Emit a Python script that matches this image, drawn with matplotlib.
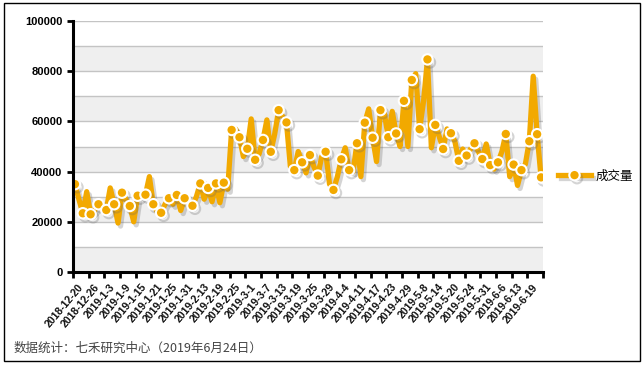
import numpy as np
import matplotlib
matplotlib.use("Agg")
import matplotlib.pyplot as plt
import matplotlib.patheffects as pe
from matplotlib.patches import Rectangle

plt.rcParams['font.family'] = ['Liberation Sans', 'Noto Sans CJK SC', 'DejaVu Sans']

# 成交量, one value per trading day (2018-12-20 .. 2019-06-24)
volume = [
    35000, 29000, 23400, 32000, 23000, 24500, 27000, 25000, 24700, 33500,
    27000, 19500, 31600, 29000, 26300, 20000, 30400, 31000, 30800, 38000,
    27000, 24000, 23600, 27000, 29400, 27000, 30700, 24500, 29400, 28000,
    26400, 30000, 35300, 29000, 33500, 28000, 35300, 27600, 35600, 33000,
    56600, 57000, 53700, 46000, 49100, 61000, 44700, 47000, 52600, 60600,
    47900, 55000, 64500, 62000, 59600, 42000, 40600, 48000, 43700, 39500,
    46600, 42000, 38400, 46000, 47900, 35000, 32700, 38000, 44900, 49500,
    40600, 40000, 51300, 38000, 59500, 65000, 53500, 44000, 64500, 63000,
    53700, 64000, 55200, 50000, 68200, 50000, 76500, 79000, 56900, 68000,
    84700, 49500, 58600, 54000, 49000, 57000, 55300, 52000, 44300, 49000,
    46400, 49000, 51300, 48000, 45000, 51000, 42600, 41000, 43700, 48000,
    55000, 38000, 42800, 34500, 40600, 43000, 52100, 78000, 54900, 37700,
]

tick_labels = [
    '2018-12-20', '2018-12-26', '2019-1-3', '2019-1-9', '2019-1-15',
    '2019-1-21', '2019-1-25', '2019-1-31', '2019-2-13', '2019-2-19',
    '2019-2-25', '2019-3-1', '2019-3-7', '2019-3-13', '2019-3-19',
    '2019-3-25', '2019-3-29', '2019-4-4', '2019-4-11', '2019-4-17',
    '2019-4-23', '2019-4-29', '2019-5-8', '2019-5-14', '2019-5-20',
    '2019-5-24', '2019-5-31', '2019-6-6', '2019-6-13', '2019-6-19',
]

n = len(volume)
x = np.arange(n)
color = '#F2A900'

fig = plt.figure(figsize=(6.43, 3.66), dpi=100)
ax = fig.add_axes([73/643, 1-272/366, 470/643, 251/366])

# alternating bands + gridlines
for lo in range(0, 100000, 20000):
    ax.axhspan(lo, lo + 10000, color='#efefef', zorder=0, lw=0)
for yv in range(10000, 100001, 10000):
    ax.axhline(yv, color='#c4c4c4', lw=1, zorder=1)

marks = list(range(0, n, 2)) + [n - 1]
line, = ax.plot(x, volume, color=color, lw=3.8, solid_joinstyle='round',
                marker='o', markevery=marks, markersize=7.5,
                markerfacecolor=color, markeredgecolor='white', markeredgewidth=1.5,
                zorder=3, label='成交量')
line.set_path_effects([pe.SimpleLineShadow(offset=(1.8, -2.2), shadow_color='#666666', alpha=0.28),
                       pe.Normal()])

ax.set_xlim(-0.5, n - 0.5)
ax.set_ylim(0, 100000)
ax.set_yticks(range(0, 100001, 20000))
ax.set_yticklabels([str(v) for v in range(0, 100001, 20000)], fontsize=8, fontweight='bold')

# tick marks on category boundaries, labels every 4 days
ax.set_xticks(np.arange(-0.5, n, 4))
ax.tick_params(axis='both', direction='out', length=4, width=2, color='black')
ax.tick_params(axis='x', which='both', labelbottom=False)
for k, lab in enumerate(tick_labels):
    ax.text(k * 4 + 0.8, -4000, lab, rotation=50, ha='right', va='top',
            fontsize=7.6, fontweight='bold', rotation_mode='anchor',
            color='#111111', clip_on=False)

for s in ['top', 'right']:
    ax.spines[s].set_visible(False)
for s in ['left', 'bottom']:
    ax.spines[s].set_linewidth(2.2)
    ax.spines[s].set_color('black')
    ax.spines[s].set_zorder(5)

fig.legend(handles=[line], loc='center left', bbox_to_anchor=(547/643, 1-176/366),
           frameon=False, handlelength=2.6, handletextpad=0.4,
           prop={'family': ['Noto Sans CJK SC'], 'size': 9})

fig.text(14/643, 1-348/366, '数据统计：七禾研究中心（2019年6月24日）',
         fontsize=9, color='#444444', va='center', family=['Noto Sans CJK SC'])

fig.patches.append(Rectangle((4/643, 5/366), 636/643, 358/366, transform=fig.transFigure,
                             fill=False, edgecolor='black', lw=1))

fig.savefig('out.png', dpi=100)
